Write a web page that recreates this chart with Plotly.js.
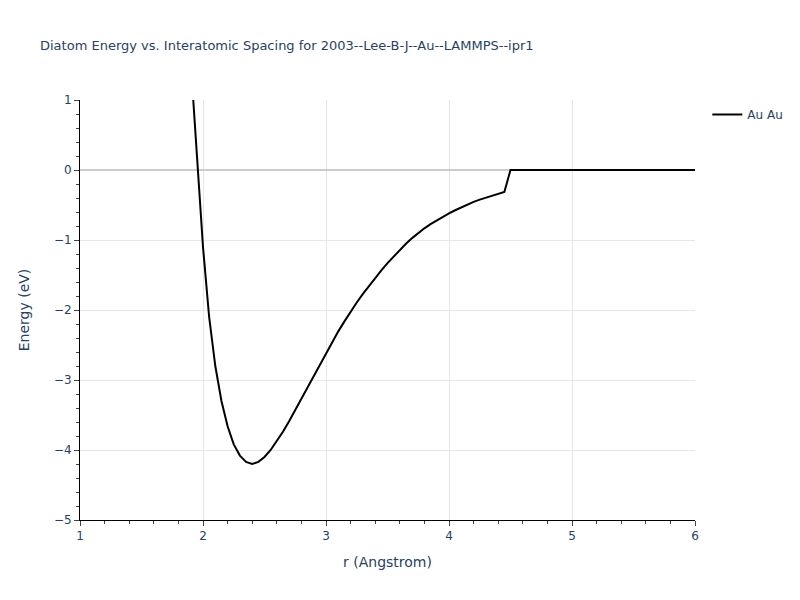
<!DOCTYPE html>
<html>
<head>
<meta charset="utf-8">
<script src="https://cdn.plot.ly/plotly-3.0.1.min.js"></script>
<style>html,body{margin:0;padding:0;}#chart{width:800px;height:600px;}</style>
</head>
<body>
<div id="chart"></div>
<script>
const seriesName = "Au Au";
const rValues = [1.90, 1.95, 2.00, 2.05, 2.10, 2.15, 2.20, 2.25, 2.30, 2.35, 2.40, 2.45, 2.50, 2.55, 2.60, 2.65, 2.70, 2.75, 2.80, 2.85, 2.90, 2.95, 3.00, 3.05, 3.10, 3.15, 3.20, 3.25, 3.30, 3.35, 3.40, 3.45, 3.50, 3.55, 3.60, 3.65, 3.70, 3.75, 3.80, 3.85, 3.90, 3.95, 4.00, 4.05, 4.10, 4.15, 4.20, 4.25, 4.30, 4.35, 4.40, 4.45, 4.50, 4.60, 4.80, 5.00, 5.20, 5.40, 5.60, 5.80, 6.00];
const energyValues = [1.55, 0.15, -1.10, -2.10, -2.80, -3.30, -3.66, -3.92, -4.08, -4.17, -4.20, -4.17, -4.10, -4.00, -3.87, -3.74, -3.59, -3.43, -3.26, -3.09, -2.93, -2.77, -2.61, -2.455, -2.305, -2.163, -2.025, -1.893, -1.77, -1.653, -1.54, -1.433, -1.33, -1.233, -1.14, -1.053, -0.973, -0.90, -0.833, -0.773, -0.718, -0.668, -0.62, -0.575, -0.532, -0.492, -0.455, -0.423, -0.393, -0.365, -0.338, -0.313, 0.0, 0.0, 0.0, 0.0, 0.0, 0.0, 0.0, 0.0, 0.0];
const chartTitle = "Diatom Energy vs. Interatomic Spacing for 2003--Lee-B-J--Au--LAMMPS--ipr1";
const xTitle = "r (Angstrom)";
const yTitle = "Energy (eV)";

const trace = {
  x: rValues, y: energyValues, type: "scatter", mode: "lines", name: seriesName,
  line: {color: "black", width: 2}, showlegend: true
};
const axisCommon = {
  showline: true, linecolor: "black", linewidth: 1,
  ticks: "outside", ticklen: 5, tickcolor: "#444",
  showgrid: true, gridcolor: "#e6e6e6", gridwidth: 1,
  zeroline: true, zerolinecolor: "#cccccc", zerolinewidth: 2,
  minor: {ticks: "outside", ticklen: 3, tickcolor: "#444", dtick: 0.2, showgrid: false},
  tickfont: {size: 12, color: "#2a3f5f"}
};
const layout = {
  width: 800, height: 600,
  paper_bgcolor: "white", plot_bgcolor: "white",
  font: {family: "DejaVu Sans, Verdana, sans-serif", color: "#2a3f5f", size: 12},
  title: {text: chartTitle, font: {size: 13, color: "#2a3f5f"}, x: 0.05},
  xaxis: Object.assign({}, axisCommon, {range: [1, 6], dtick: 1, title: {text: xTitle, font: {size: 14}, standoff: 14}}),
  yaxis: Object.assign({}, axisCommon, {range: [-5, 1], dtick: 1, title: {text: yTitle, font: {size: 14}, standoff: 20}}),
  legend: {font: {size: 12}},
  margin: {l: 80, r: 82, t: 100, b: 80}
};
Plotly.newPlot("chart", [trace], layout, {displayModeBar: false});
</script>
</body>
</html>
